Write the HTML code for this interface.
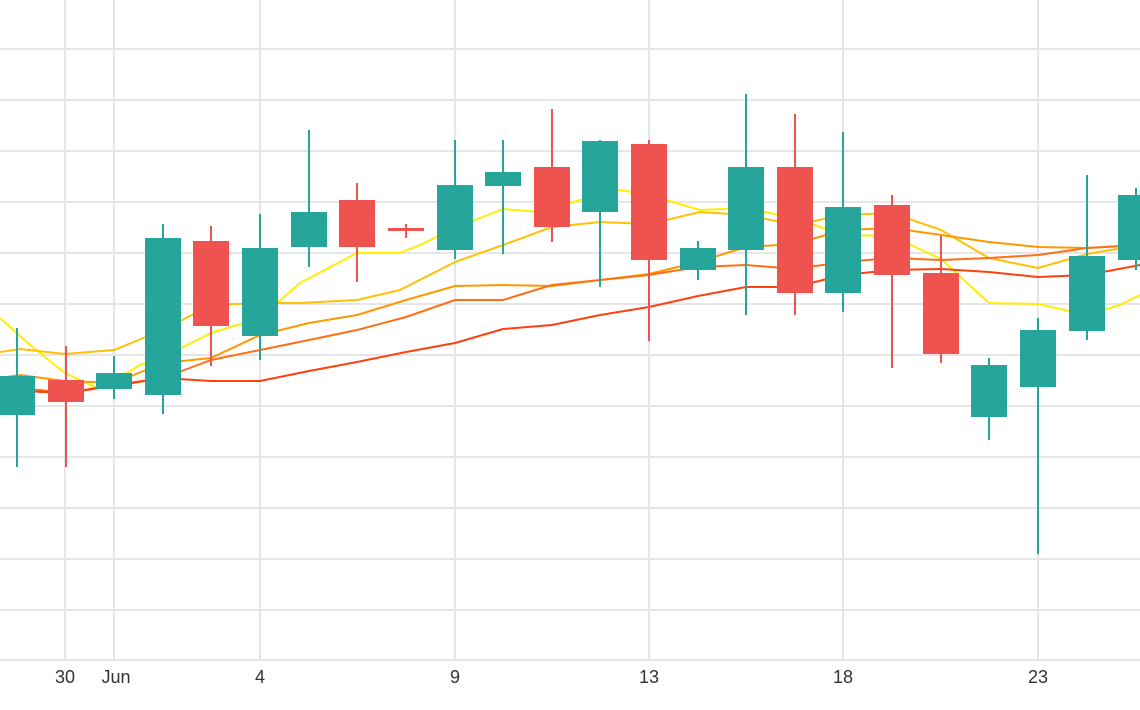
<!DOCTYPE html>
<html><head><meta charset="utf-8"><style>body{margin:0;background:#fff}svg{display:block}</style></head><body>
<svg width="1140" height="710" viewBox="0 0 1140 710" xmlns="http://www.w3.org/2000/svg">
<g stroke="#e6e6e6" stroke-width="2">
<line x1="0" y1="49" x2="1140" y2="49"/><line x1="0" y1="100" x2="1140" y2="100"/><line x1="0" y1="151" x2="1140" y2="151"/><line x1="0" y1="202" x2="1140" y2="202"/><line x1="0" y1="253" x2="1140" y2="253"/><line x1="0" y1="304" x2="1140" y2="304"/><line x1="0" y1="355" x2="1140" y2="355"/><line x1="0" y1="406" x2="1140" y2="406"/><line x1="0" y1="457" x2="1140" y2="457"/><line x1="0" y1="508" x2="1140" y2="508"/><line x1="0" y1="559" x2="1140" y2="559"/><line x1="0" y1="610" x2="1140" y2="610"/><line x1="0" y1="660" x2="1140" y2="660"/>
<line x1="65" y1="0" x2="65" y2="660"/><line x1="114" y1="0" x2="114" y2="660"/><line x1="260" y1="0" x2="260" y2="660"/><line x1="455" y1="0" x2="455" y2="660"/><line x1="649" y1="0" x2="649" y2="660"/><line x1="843" y1="0" x2="843" y2="660"/><line x1="1038" y1="0" x2="1038" y2="660"/>
</g>
<g fill="none" stroke-width="2" stroke-linejoin="round">
<polyline stroke="#ffee00" points="0,318 30,345 65,373 97,388 114,381 140,365 163,357 211,333 260,318 300,283 357,253 400,253 420,245 455,228 503,209 540,212 580,200 620,190 649,195 700,210 746,208 795,218 843,235 892,236 941,259 989,303 1038,304 1087,315 1120,305 1140,295"/>
<polyline stroke="#ffc107" points="0,352 20,349 65,354 114,350 163,330 211,305 260,303 300,303 357,300 400,290 455,262 503,245 552,227 600,222 649,224 700,212 746,215 795,225 843,215 892,213 941,230 989,258 1038,268 1087,254 1140,245"/>
<polyline stroke="#ff9800" points="0,378 20,375 65,381 114,383 163,363 211,358 260,335 309,323 357,315 406,300 455,286 503,285 552,286 600,280 649,274 698,262 746,247 795,244 843,230 892,228 941,235 989,242 1038,247 1087,248 1140,245"/>
<polyline stroke="#ff7016" points="0,388 40,390 65,393 114,385 163,378 211,360 260,350 309,340 357,330 406,317 455,300 503,300 552,285 600,280 649,275 698,267 746,265 795,269 843,262 892,258 941,260 989,258 1038,255 1087,248 1140,245"/>
<polyline stroke="#ff4010" points="0,390 65,393 114,386 163,378 211,381 260,381 309,371 357,362 406,352 455,343 503,329 552,325 600,315 649,307 698,296 746,287 795,287 843,275 892,270 941,269 989,272 1038,277 1087,275 1140,265"/>
</g>
<g stroke-width="2">
<g stroke="#26a69a" fill="#26a69a">
<line x1="17" y1="328" x2="17" y2="467"/><rect x="0" y="377" width="34" height="37"/>
<line x1="114" y1="356" x2="114" y2="399"/><rect x="97" y="374" width="34" height="14"/>
<line x1="163" y1="224" x2="163" y2="414"/><rect x="146" y="239" width="34" height="155"/>
<line x1="260" y1="214" x2="260" y2="360"/><rect x="243" y="249" width="34" height="86"/>
<line x1="309" y1="130" x2="309" y2="267"/><rect x="292" y="213" width="34" height="33"/>
<line x1="455" y1="140" x2="455" y2="259"/><rect x="438" y="186" width="34" height="63"/>
<line x1="503" y1="140" x2="503" y2="254"/><rect x="486" y="173" width="34" height="12"/>
<line x1="600" y1="140" x2="600" y2="287"/><rect x="583" y="142" width="34" height="69"/>
<line x1="698" y1="241" x2="698" y2="280"/><rect x="681" y="249" width="34" height="20"/>
<line x1="746" y1="94" x2="746" y2="315"/><rect x="729" y="168" width="34" height="81"/>
<line x1="843" y1="132" x2="843" y2="312"/><rect x="826" y="208" width="34" height="84"/>
<line x1="989" y1="358" x2="989" y2="440"/><rect x="972" y="366" width="34" height="50"/>
<line x1="1038" y1="318" x2="1038" y2="554"/><rect x="1021" y="331" width="34" height="55"/>
<line x1="1087" y1="175" x2="1087" y2="340"/><rect x="1070" y="257" width="34" height="73"/>
<line x1="1136" y1="188" x2="1136" y2="270"/><rect x="1119" y="196" width="34" height="63"/>
</g>
<g stroke="#ef5350" fill="#ef5350">
<line x1="66" y1="346" x2="66" y2="467"/><rect x="49" y="381" width="34" height="20"/>
<line x1="211" y1="226" x2="211" y2="366"/><rect x="194" y="242" width="34" height="83"/>
<line x1="357" y1="183" x2="357" y2="282"/><rect x="340" y="201" width="34" height="45"/>
<line x1="406" y1="224" x2="406" y2="238"/><rect x="389" y="229" width="34" height="1"/>
<line x1="552" y1="109" x2="552" y2="242"/><rect x="535" y="168" width="34" height="58"/>
<line x1="649" y1="140" x2="649" y2="341"/><rect x="632" y="145" width="34" height="114"/>
<line x1="795" y1="114" x2="795" y2="315"/><rect x="778" y="168" width="34" height="124"/>
<line x1="892" y1="195" x2="892" y2="368"/><rect x="875" y="206" width="34" height="68"/>
<line x1="941" y1="236" x2="941" y2="363"/><rect x="924" y="274" width="34" height="79"/>
</g>
</g>
<g font-family="Liberation Sans, sans-serif" font-size="18" fill="#333" text-anchor="middle">
<text x="65" y="683">30</text><text x="116" y="683">Jun</text><text x="260" y="683">4</text><text x="455" y="683">9</text><text x="649" y="683">13</text><text x="843" y="683">18</text><text x="1038" y="683">23</text>
</g>
</svg>
</body></html>
